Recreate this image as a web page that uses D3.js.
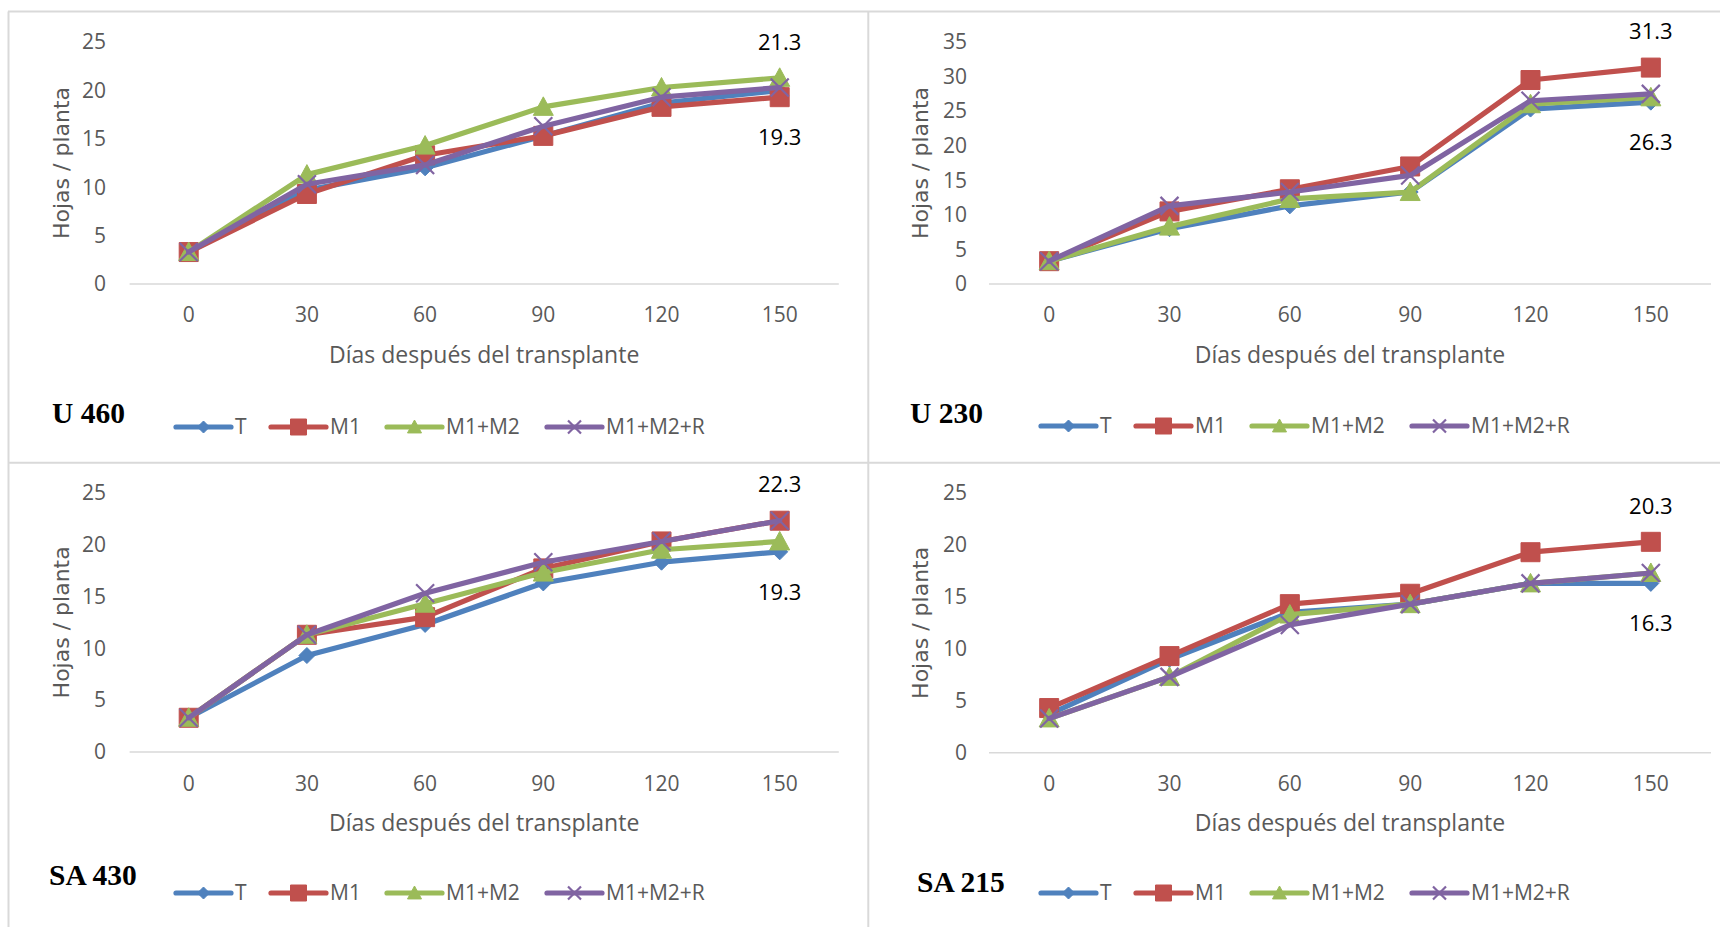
<!DOCTYPE html>
<html>
<head>
<meta charset="utf-8">
<script src="https://cdn.jsdelivr.net/npm/d3@7"></script>
<style>
  html, body { margin: 0; padding: 0; background: #fff; }
  svg { display: block; }
</style>
</head>
<body>
<svg id="chart" width="1720" height="927"></svg>
<script>
// ---------- DATA ----------
const categories = [0, 30, 60, 90, 120, 150];
const seriesNames = ["T", "M1", "M1+M2", "M1+M2+R"];
const seriesColors = ["#4F81BD", "#C0504D", "#9BBB59", "#8064A2"];
const seriesMarkers = ["diamond", "square", "triangle", "x"];

const u460_T     = [3.3, 9.7, 12.0, 15.3, 18.7, 20.0];
const u460_M1    = [3.3, 9.3, 13.3, 15.3, 18.3, 19.3];
const u460_M1M2  = [3.3, 11.3, 14.3, 18.3, 20.3, 21.3];
const u460_M1M2R = [3.3, 10.3, 12.3, 16.3, 19.3, 20.3];

const u230_T     = [3.3, 8.0, 11.3, 13.3, 25.3, 26.3];
const u230_M1    = [3.3, 10.5, 13.7, 17.0, 29.5, 31.3];
const u230_M1M2  = [3.3, 8.3, 12.3, 13.3, 26.0, 27.0];
const u230_M1M2R = [3.3, 11.3, 13.3, 15.7, 26.5, 27.5];

const sa430_T     = [3.3, 9.3, 12.3, 16.3, 18.3, 19.3];
const sa430_M1    = [3.3, 11.3, 13.0, 17.7, 20.3, 22.3];
const sa430_M1M2  = [3.3, 11.3, 14.3, 17.3, 19.5, 20.3];
const sa430_M1M2R = [3.3, 11.3, 15.3, 18.3, 20.3, 22.3];

const sa215_T     = [3.7, 9.0, 13.5, 14.3, 16.3, 16.3];
const sa215_M1    = [4.3, 9.3, 14.3, 15.3, 19.3, 20.3];
const sa215_M1M2  = [3.3, 7.3, 13.3, 14.3, 16.3, 17.3];
const sa215_M1M2R = [3.3, 7.3, 12.3, 14.3, 16.3, 17.3];

const yTicks25 = [0, 5, 10, 15, 20, 25];
const yTicks35 = [0, 5, 10, 15, 20, 25, 30, 35];

// data labels at the last category: [value, position]
const labels_u460  = [[21.3, "above"], [19.3, "below"]];
const labels_u230  = [[31.3, "above"], [26.3, "below"]];
const labels_sa430 = [[22.3, "above"], [19.3, "below"]];
const labels_sa215 = [[20.3, "above"], [16.3, "below"]];

const titles = ["U 460", "U 230", "SA 430", "SA 215"];
const xTitle = "Días después del transplante";
const yTitle = "Hojas / planta";

// ---------- LAYOUT ----------
const panels = [
  { title: titles[0], series: [u460_T, u460_M1, u460_M1M2, u460_M1M2R], ticks: yTicks25, labels: labels_u460,
    x0: 129.6, x1: 838.8, yb: 284, yt: 42, tickRight: 106, yTitleX: 61, titleX: 52, titleY: 413, legX: 176, legY: 427, xTickY: 315, xTitleY: 355 },
  { title: titles[1], series: [u230_T, u230_M1, u230_M1M2, u230_M1M2R], ticks: yTicks35, labels: labels_u230,
    x0: 989, x1: 1711, yb: 284, yt: 42, tickRight: 967, yTitleX: 920, titleX: 910, titleY: 413, legX: 1041, legY: 426, xTickY: 315, xTitleY: 355 },
  { title: titles[2], series: [sa430_T, sa430_M1, sa430_M1M2, sa430_M1M2R], ticks: yTicks25, labels: labels_sa430,
    x0: 129.6, x1: 838.8, yb: 752, yt: 492.7, tickRight: 106, yTitleX: 61, titleX: 49, titleY: 875, legX: 176, legY: 893, xTickY: 784, xTitleY: 823 },
  { title: titles[3], series: [sa215_T, sa215_M1, sa215_M1M2, sa215_M1M2R], ticks: yTicks25, labels: labels_sa215,
    x0: 989, x1: 1711, yb: 752.7, yt: 493, tickRight: 967, yTitleX: 920, titleX: 917, titleY: 882, legX: 1041, legY: 893, xTickY: 784, xTitleY: 823 }
];

const svg = d3.select("#chart");
const GREY = "#d9d9d9";
const TXT = "#595959";
const FONT = "'Open Sans', sans-serif";

// panel borders
const borders = svg.append("g").attr("stroke", GREY).attr("stroke-width", 2);
borders.append("line").attr("x1", 8).attr("x2", 1720).attr("y1", 11.5).attr("y2", 11.5);
borders.append("line").attr("x1", 8).attr("x2", 1720).attr("y1", 462.7).attr("y2", 462.7);
borders.append("line").attr("x1", 8.5).attr("x2", 8.5).attr("y1", 11.5).attr("y2", 927);
borders.append("line").attr("x1", 868.3).attr("x2", 868.3).attr("y1", 11.5).attr("y2", 927);

function markerPath(type, s) {
  const h = s / 2;
  if (type === "diamond") return `M0,${-h}L${h},0L0,${h}L${-h},0Z`;
  if (type === "square") return `M${-h},${-h}H${h}V${h}H${-h}Z`;
  if (type === "triangle") return `M0,${-h}L${h},${h * 0.85}L${-h},${h * 0.85}Z`;
  return `M${-h},${-h}L${h},${h}M${h},${-h}L${-h},${h}`;
}
const markerSize = { diamond: 16, square: 19, triangle: 20, x: 18 };
const legendMarkerSize = { diamond: 12, square: 16, triangle: 14, x: 13 };

function drawMarker(g, type, color, s, x, y) {
  const p = g.append("path").attr("d", markerPath(type, s)).attr("transform", `translate(${x},${y})`);
  if (type === "x") p.attr("fill", "none").attr("stroke", color).attr("stroke-width", 2.2);
  else p.attr("fill", color).attr("stroke", color).attr("stroke-width", 1);
}

panels.forEach(P => {
  const g = svg.append("g");
  const x = d3.scaleBand().domain(categories).range([P.x0, P.x1]);
  const yMax = P.ticks[P.ticks.length - 1];
  const y = d3.scaleLinear().domain([0, yMax]).range([P.yb, P.yt]);
  const cx = d => x(d) + x.bandwidth() / 2;

  // x axis line
  g.append("line").attr("x1", P.x0).attr("x2", P.x1).attr("y1", P.yb).attr("y2", P.yb)
    .attr("stroke", GREY).attr("stroke-width", 1.5);

  // y tick labels
  g.selectAll(".yt").data(P.ticks).enter().append("text")
    .attr("x", P.tickRight).attr("y", d => y(d)).attr("dy", "0.35em")
    .attr("text-anchor", "end").attr("font-family", FONT).attr("font-size", 21).attr("fill", TXT)
    .text(d => d);

  // x tick labels
  g.selectAll(".xt").data(categories).enter().append("text")
    .attr("x", d => cx(d)).attr("y", P.xTickY).attr("dy", "0.35em")
    .attr("text-anchor", "middle").attr("font-family", FONT).attr("font-size", 21).attr("fill", TXT)
    .text(d => d);

  // axis titles
  g.append("text").attr("x", (P.x0 + P.x1) / 2).attr("y", P.xTitleY).attr("dy", "0.35em")
    .attr("text-anchor", "middle").attr("font-family", FONT).attr("font-size", 23).attr("fill", TXT)
    .text(xTitle);
  g.append("text").attr("transform", `translate(${P.yTitleX},${(P.yb + P.yt) / 2})rotate(-90)`)
    .attr("dy", "0.35em").attr("text-anchor", "middle")
    .attr("font-family", "'DejaVu Sans', sans-serif").attr("font-size", 22).attr("fill", TXT)
    .text(yTitle);

  // series
  const line = d3.line().x((d, i) => cx(categories[i])).y(d => y(d));
  P.series.forEach((vals, si) => {
    const sg = g.append("g");
    sg.append("path").datum(vals).attr("d", line).attr("fill", "none")
      .attr("stroke", seriesColors[si]).attr("stroke-width", 5.2).attr("stroke-linejoin", "round").attr("stroke-linecap", "round");
    vals.forEach((v, i) => drawMarker(sg, seriesMarkers[si], seriesColors[si], markerSize[seriesMarkers[si]], cx(categories[i]), y(v)));
  });

  // data labels
  const lastCat = categories[categories.length - 1];
  P.labels.forEach(([v, pos]) => {
    g.append("text").attr("x", cx(lastCat)).attr("y", y(v) + (pos === "above" ? -36 : 40)).attr("dy", "0.35em")
      .attr("text-anchor", "middle").attr("font-family", FONT).attr("font-size", 22).attr("fill", "#000")
      .text(v.toFixed(1));
  });

  // panel title
  g.append("text").attr("x", P.titleX).attr("y", P.titleY).attr("dy", "0.35em")
    .attr("font-family", "'Liberation Serif', serif").attr("font-weight", "bold").attr("font-size", 29.5).attr("fill", "#000")
    .text(P.title);

  // legend
  const offsets = [0, 95, 211, 371];
  seriesNames.forEach((name, si) => {
    const lx = P.legX + offsets[si];
    g.append("line").attr("x1", lx).attr("x2", lx + 55).attr("y1", P.legY).attr("y2", P.legY)
      .attr("stroke", seriesColors[si]).attr("stroke-width", 5.2).attr("stroke-linecap", "round");
    drawMarker(g, seriesMarkers[si], seriesColors[si], legendMarkerSize[seriesMarkers[si]], lx + 27.5, P.legY);
    g.append("text").attr("x", lx + 59).attr("y", P.legY).attr("dy", "0.35em")
      .attr("font-family", FONT).attr("font-size", 21).attr("fill", TXT).text(name);
  });
});
</script>
</body>
</html>
